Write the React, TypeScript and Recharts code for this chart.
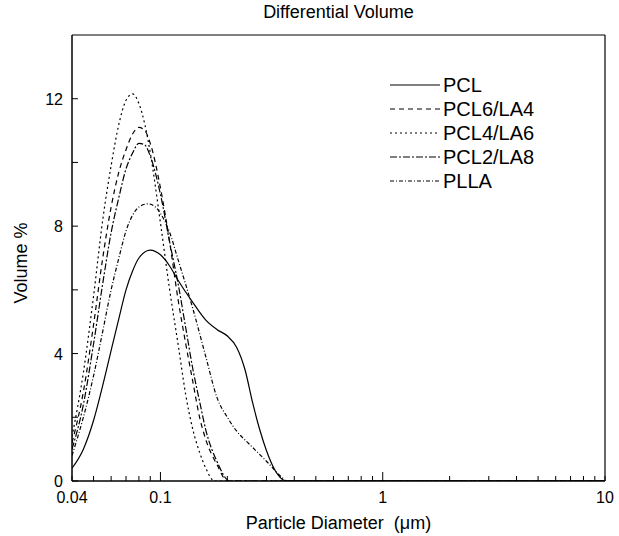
import { LineChart, Line, XAxis, YAxis, Legend, ReferenceLine } from 'recharts';

// particle diameter (um) / volume % pairs
const pcl = [
  [0.04, 0.4], [0.045, 1.0], [0.05, 1.9], [0.055, 3.0], [0.06, 4.1], [0.065, 5.1],
  [0.07, 6.0], [0.075, 6.6], [0.08, 7.0], [0.09, 7.25], [0.1, 7.1], [0.11, 6.75],
  [0.12, 6.3], [0.14, 5.6], [0.16, 5.05], [0.18, 4.75], [0.2, 4.55], [0.22, 4.2],
  [0.24, 3.5], [0.26, 2.45], [0.28, 1.6], [0.3, 0.95], [0.33, 0.3], [0.37, 0], [10, 0],
];
const pcl6la4 = [
  [0.04, 1.2], [0.045, 2.8], [0.05, 4.9], [0.055, 7.0], [0.06, 8.6], [0.065, 9.7],
  [0.07, 10.4], [0.075, 10.9], [0.08, 11.1], [0.085, 11.0], [0.09, 10.6], [0.1, 9.2],
  [0.11, 7.5], [0.12, 5.7], [0.13, 4.3], [0.14, 3.1], [0.15, 2.0], [0.16, 1.3],
  [0.18, 0.5], [0.2, 0], [10, 0],
];
const pcl4la6 = [
  [0.04, 1.4], [0.045, 3.4], [0.05, 5.8], [0.055, 8.2], [0.06, 9.9], [0.065, 11.2],
  [0.07, 11.95], [0.075, 12.15], [0.08, 11.85], [0.085, 11.2], [0.09, 10.3], [0.1, 8.1],
  [0.11, 6.0], [0.12, 4.3], [0.13, 2.7], [0.14, 1.6], [0.15, 0.9], [0.16, 0.4],
  [0.175, 0], [10, 0],
];
const pcl2la8 = [
  [0.04, 1.0], [0.045, 2.4], [0.05, 4.3], [0.055, 6.2], [0.06, 7.8], [0.065, 8.9],
  [0.07, 9.8], [0.075, 10.3], [0.08, 10.6], [0.085, 10.55], [0.09, 10.2], [0.1, 9.0],
  [0.11, 7.5], [0.12, 6.2], [0.13, 4.8], [0.14, 3.5], [0.15, 2.5], [0.16, 1.6],
  [0.18, 0.6], [0.205, 0], [10, 0],
];
const plla = [
  [0.04, 0.8], [0.045, 2.0], [0.05, 3.3], [0.055, 4.7], [0.06, 6.0], [0.065, 7.0],
  [0.07, 7.85], [0.075, 8.35], [0.08, 8.6], [0.088, 8.7], [0.095, 8.6], [0.1, 8.4],
  [0.11, 7.8], [0.12, 6.95], [0.14, 5.4], [0.16, 3.9], [0.18, 2.6], [0.2, 2.0],
  [0.22, 1.57], [0.25, 1.17], [0.3, 0.62], [0.35, 0.13], [0.37, 0], [10, 0],
];

const xTicks = [
  0.04, 0.05, 0.06, 0.07, 0.08, 0.09, 0.1, 0.2, 0.3, 0.4, 0.5, 0.6, 0.7, 0.8, 0.9,
  1, 2, 3, 4, 5, 6, 7, 8, 9, 10,
];
const xLabelTicks = [0.04, 0.1, 1, 10];
const xLabels = ['0.04', '0.1', '1', '10'];
const yTicks = [0, 2, 4, 6, 8, 10, 12];
const yLabelTicks = [0, 4, 8, 12];

const FONT = '"Liberation Sans", Arial, sans-serif';

const series = [
  { name: 'PCL', points: pcl, dash: undefined },
  { name: 'PCL6/LA4', points: pcl6la4, dash: '5 4' },
  { name: 'PCL4/LA6', points: pcl4la6, dash: '2 3' },
  { name: 'PCL2/LA8', points: pcl2la8, dash: '7 2 2 2' },
  { name: 'PLLA', points: plla, dash: '4 2 1 2' },
];

const near = (a: number, b: number) => Math.abs(a - b) < 1e-9;

function XTick(props: any) {
  const { x, y, payload } = props;
  const v = payload.value;
  const idx = xLabelTicks.findIndex((t) => near(t, v));
  const major = near(v, 0.1) || near(v, 1);
  return (
    <g>
      <line x1={x} x2={x} y1={y} y2={y - (major ? 9 : 5)} stroke="#000" />
      {idx >= 0 && (
        <text x={x} y={y + 22} textAnchor="middle" fontSize={16} fontFamily={FONT} fill="#000">
          {xLabels[idx]}
        </text>
      )}
    </g>
  );
}

function YTick(props: any) {
  const { x, y, payload } = props;
  const v = payload.value;
  const labelled = yLabelTicks.includes(v);
  return (
    <g>
      <line x1={x} x2={x + 6} y1={y} y2={y} stroke="#000" />
      {labelled && (
        <text x={x - 9} y={y + 6} textAnchor="end" fontSize={16} fontFamily={FONT} fill="#000">
          {v}
        </text>
      )}
    </g>
  );
}

function TitleLabel(props: any) {
  const { viewBox } = props;
  return (
    <text
      x={viewBox.x + viewBox.width / 2}
      y={viewBox.y - 17}
      textAnchor="middle"
      fontSize={18}
      fontFamily={FONT}
      fill="#000"
    >
      Differential Volume
    </text>
  );
}

function XTitle(props: any) {
  const { viewBox } = props;
  return (
    <text
      x={viewBox.x + viewBox.width / 2}
      y={viewBox.y + 48}
      textAnchor="middle"
      fontSize={18}
      fontFamily={FONT}
      fill="#000"
    >
      {'Particle Diameter\u00a0 (μm)'}
    </text>
  );
}

function YTitle(props: any) {
  const { viewBox } = props;
  const cx = 21;
  const cy = viewBox.y + viewBox.height / 2 + 5;
  return (
    <text
      x={cx}
      y={cy}
      transform={`rotate(-90, ${cx}, ${cy})`}
      textAnchor="middle"
      dominantBaseline="central"
      fontSize={18}
      fontFamily={FONT}
      fill="#000"
    >
      Volume %
    </text>
  );
}

function renderLegend() {
  return (
    <div style={{ fontFamily: FONT, fontSize: 20, color: '#000' }}>
      {series.map((s) => (
        <div key={s.name} style={{ display: 'flex', alignItems: 'center', height: 24 }}>
          <svg width={50} height={10}>
            <line x1={0} x2={50} y1={5} y2={5} stroke="#000" strokeDasharray={s.dash} />
          </svg>
          <span style={{ marginLeft: 3 }}>{s.name}</span>
        </div>
      ))}
    </div>
  );
}

export default function App() {
  return (
    <div style={{ position: 'absolute', left: 0, top: 0 }}>
      <LineChart width={619} height={536} margin={{ top: 35, right: 14, left: 0, bottom: 0 }}>
        <XAxis
          dataKey="d"
          type="number"
          scale="log"
          domain={[0.04, 10]}
          allowDataOverflow
          ticks={xTicks}
          interval={0}
          tickSize={0}
          tickMargin={0}
          tickLine={false}
          tick={<XTick />}
          height={55}
          axisLine={{ stroke: '#000', strokeWidth: 1.5 }}
          label={<XTitle />}
        />
        <YAxis
          type="number"
          domain={[0, 14]}
          allowDataOverflow
          ticks={yTicks}
          interval={0}
          tickSize={0}
          tickMargin={0}
          tickLine={false}
          tick={<YTick />}
          width={72}
          axisLine={{ stroke: '#000', strokeWidth: 1.5 }}
          label={<YTitle />}
        />
        <ReferenceLine y={14} stroke="#000" strokeWidth={1.2} label={<TitleLabel />} />
        <ReferenceLine x={10} stroke="#000" strokeWidth={1.2} />
        <Legend
          layout="vertical"
          align="center"
          verticalAlign="middle"
          wrapperStyle={{ left: 390, top: 73, width: 'auto' }}
          content={renderLegend}
        />
        {series.map((s) => (
          <Line
            key={s.name}
            name={s.name}
            data={s.points.map(([d, v]) => ({ d, v }))}
            dataKey="v"
            type="monotone"
            stroke="#000"
            strokeWidth={1.2}
            strokeDasharray={s.dash}
            dot={false}
            activeDot={false}
            isAnimationActive={false}
          />
        ))}
      </LineChart>
    </div>
  );
}
